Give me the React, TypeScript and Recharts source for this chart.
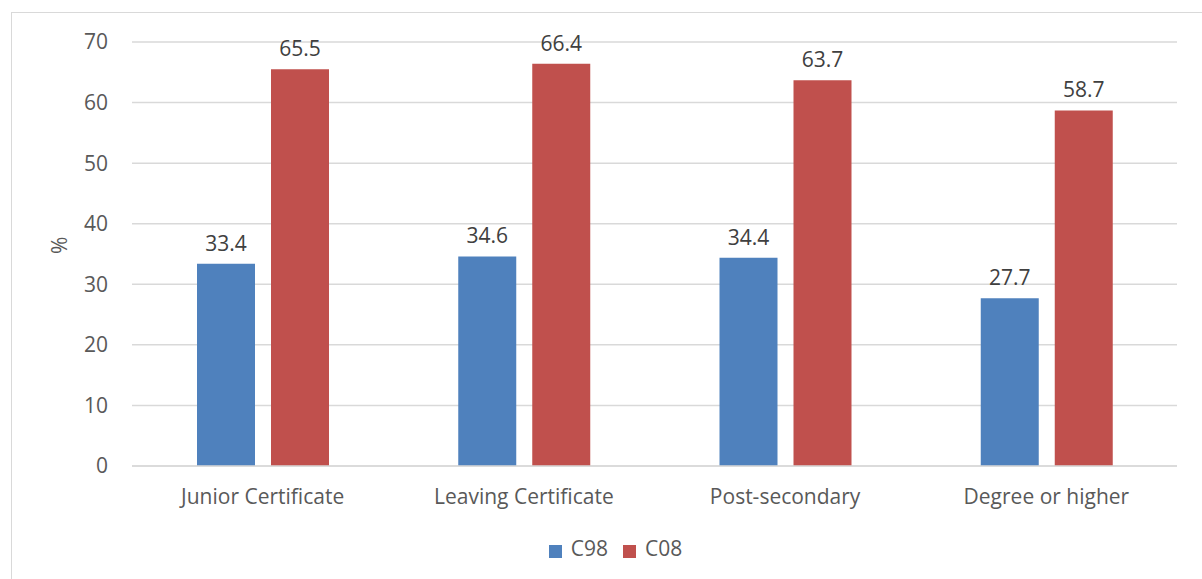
import React from 'react';
import { BarChart, Bar, XAxis, YAxis, CartesianGrid, Legend, LabelList } from 'recharts';

const categories = ['Junior Certificate', 'Leaving Certificate', 'Post-secondary', 'Degree or higher'];
const c98 = [33.4, 34.6, 34.4, 27.7];
const c08 = [65.5, 66.4, 63.7, 58.7];
const yTicks = [0, 10, 20, 30, 40, 50, 60, 70];
const seriesOrder = ['C98', 'C08'];

const data = categories.map((name, i) => ({ name, C98: c98[i], C08: c08[i] }));

const FONT = '"Open Sans", Lato, sans-serif';
const TEXT = '#595959';
const FS = 21;

export default function App() {
  return (
    <div style={{ position: 'absolute', left: 0, top: 0, width: 1202, height: 579, overflow: 'hidden', background: '#fff', fontFamily: FONT }}>
      <div
        style={{
          position: 'absolute',
          left: 11,
          top: 12,
          width: 1202,
          height: 580,
          border: '1px solid #d9d9d9',
          boxSizing: 'border-box',
        }}
      >
        <BarChart
          width={1202}
          height={566}
          data={data}
          margin={{ top: 29, right: 37, left: 0, bottom: 17 }}
          barSize={58}
          barGap={16}
        >
          <CartesianGrid vertical={false} stroke="#d9d9d9" strokeWidth={1.5} />
          <XAxis
            dataKey="name"
            height={68}
            axisLine={{ stroke: '#d9d9d9', strokeWidth: 1.5 }}
            tickLine={false}
            tickMargin={17}
            tick={{ fill: TEXT, fontSize: FS, fontFamily: FONT }}
          />
          <YAxis
            width={120}
            domain={[0, 70]}
            ticks={yTicks}
            axisLine={false}
            tickLine={false}
            tickMargin={18}
            tick={{ fill: TEXT, fontSize: FS, fontFamily: FONT }}
            label={{ value: '%', angle: -90, position: 'insideLeft', offset: 48, fill: TEXT, fontSize: FS, fontFamily: FONT }}
          />
          <Legend
            verticalAlign="bottom"
            iconType="square"
            iconSize={13}
            itemSorter={(item: any) => seriesOrder.indexOf(item.value)}
            wrapperStyle={{ left: 10, width: 1202 }}
            formatter={(value: string) => (
              <span style={{ color: TEXT, fontSize: FS, fontFamily: FONT, marginLeft: 5, marginRight: 5 }}>{value}</span>
            )}
          />
          <Bar dataKey="C98" fill="#4F81BD" isAnimationActive={false}>
            <LabelList dataKey="C98" position="top" offset={13} fill="#404040" fontSize={FS} fontFamily={FONT} />
          </Bar>
          <Bar dataKey="C08" fill="#C0504D" isAnimationActive={false}>
            <LabelList dataKey="C08" position="top" offset={13} fill="#404040" fontSize={FS} fontFamily={FONT} />
          </Bar>
        </BarChart>
      </div>
    </div>
  );
}
